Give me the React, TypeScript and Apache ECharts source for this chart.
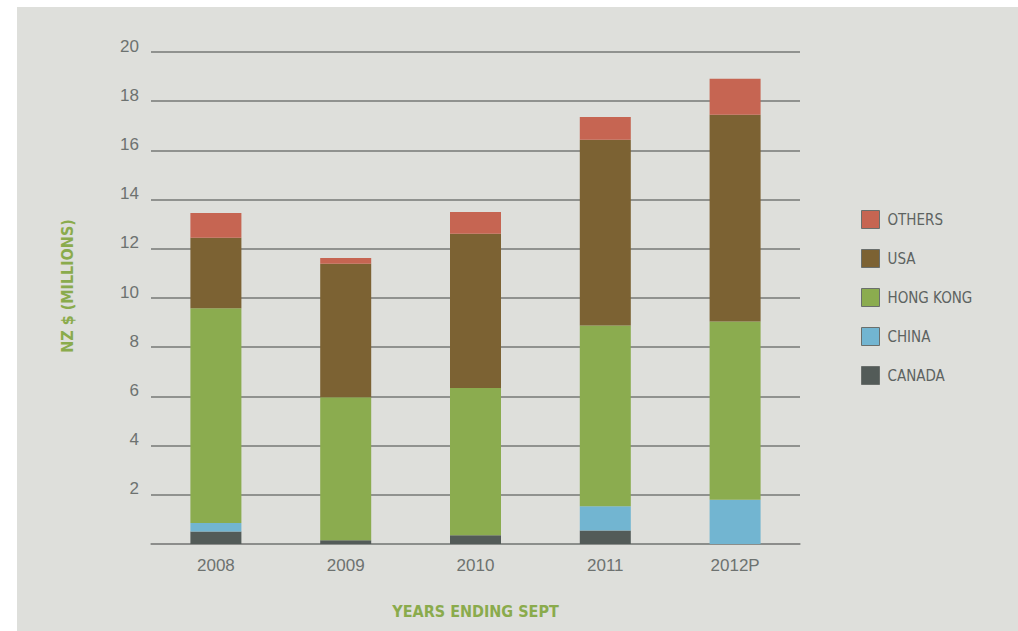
import React, { useEffect, useRef } from "react";
import * as echarts from "echarts";

const years = ["2008", "2009", "2010", "2011", "2012P"];
const canada = [0.51, 0.15, 0.36, 0.55, 0];
const china = [0.34, 0, 0, 0.98, 1.8];
const hongKong = [8.73, 5.82, 5.98, 7.35, 7.24];
const usa = [2.87, 5.42, 6.27, 7.55, 8.41];
const others = [1.01, 0.24, 0.89, 0.93, 1.46];

const seriesDefs = [
  { name: "CANADA", data: canada, color: "#535b58" },
  { name: "CHINA", data: china, color: "#72b5d1" },
  { name: "HONG KONG", data: hongKong, color: "#8bac4f" },
  { name: "USA", data: usa, color: "#7c6233" },
  { name: "OTHERS", data: others, color: "#c66552" },
];
const legendOrder = ["OTHERS", "USA", "HONG KONG", "CHINA", "CANADA"];

const condensed = "'Liberation Sans Narrow', 'DejaVu Sans Condensed', 'Roboto Condensed', sans-serif";
const plain = "'Liberation Sans', Arial, sans-serif";
const green = "#8aab4c";

export default function App() {
  const ref = useRef<HTMLDivElement>(null);
  useEffect(() => {
    document.body.style.margin = "0";
    if (!ref.current) return;
    const chart = echarts.init(ref.current, null, { renderer: "svg" });
    chart.setOption({
      animation: false,
      backgroundColor: "transparent",
      grid: { left: 151, top: 52, width: 649, height: 492 },
      legend: {
        data: legendOrder,
        orient: "vertical",
        left: 856,
        top: 205,
        itemWidth: 18,
        itemHeight: 18,
        itemGap: 20,
        icon: "rect",
        selectedMode: false,
        itemStyle: { borderColor: "#6a6f6c", borderWidth: 1 },
        textStyle: { fontFamily: condensed, fontSize: 15, color: "#5d6361", padding: [0, 0, 0, 3] },
      },
      xAxis: {
        type: "category",
        data: years,
        axisTick: { show: false },
        axisLine: { lineStyle: { color: "#8a8c8a", width: 1.5 } },
        axisLabel: { fontFamily: plain, fontSize: 17, color: "#6d7270", margin: 13 },
        name: "YEARS ENDING SEPT",
        nameLocation: "middle",
        nameGap: 59,
        nameTextStyle: { fontFamily: condensed, fontSize: 16, fontWeight: "bold", color: green },
      },
      yAxis: {
        type: "value",
        min: 0,
        max: 20,
        interval: 2,
        axisLine: { show: false },
        axisTick: { show: false },
        splitLine: { lineStyle: { color: "#767876", width: 1.5 } },
        axisLabel: {
          fontFamily: plain,
          fontSize: 17,
          color: "#6d7270",
          margin: 12,
          verticalAlign: "bottom",
          lineHeight: 12,
          formatter: (v: number) => (v === 0 ? "" : String(v)),
        },
      },
      graphic: [
        {
          type: "text",
          x: 67,
          y: 286,
          rotation: Math.PI / 2,
          style: {
            text: "NZ $ (MILLIONS)",
            fontFamily: condensed,
            fontSize: 16,
            fontWeight: "bold",
            fill: green,
            align: "center",
            verticalAlign: "middle",
          },
        },
      ],
      series: seriesDefs.map((s) => ({
        name: s.name,
        type: "bar",
        stack: "total",
        barWidth: 51,
        data: s.data,
        itemStyle: { color: s.color },
      })),
    });
    return () => chart.dispose();
  }, []);
  return (
    <div style={{ position: "relative", width: 1018, height: 631, background: "#ffffff", overflow: "hidden" }}>
      <div style={{ position: "absolute", left: 17, top: 7, right: 0, bottom: 0, background: "#dedfdb" }} />
      <div ref={ref} style={{ position: "absolute", left: 0, top: 0, width: 1018, height: 631 }} />
    </div>
  );
}
